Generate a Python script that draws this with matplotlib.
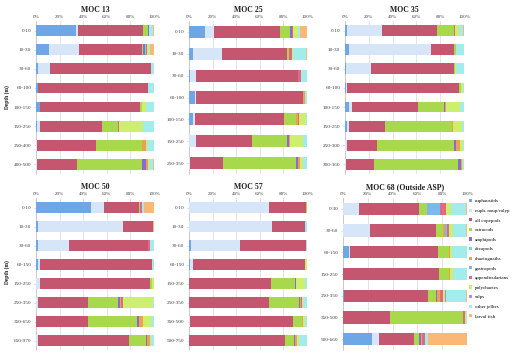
import matplotlib
matplotlib.use("Agg")
import matplotlib.pyplot as plt
from matplotlib.patches import Patch
import numpy as np

plt.rcParams['font.family'] = ['Liberation Serif', 'DejaVu Serif']

categories = ["euphausiids", "euph. naup/calyp", "all copepods", "ostracods", "amphipods",
              "decapods", "chaetognaths", "gastropods", "appendicularians", "polychaetes",
              "salps", "other jellies", "larval fish"]
colors = ["#6EA6E6", "#D6E5F7", "#C4566F", "#A8D84C", "#8A6BD6", "#6ED8D8", "#F0A04C",
          "#7CB8EE", "#E06880", "#CCF06E", "#A993E0", "#A2ECEC", "#FAB877"]

x_ticks = [0, 20, 40, 60, 80, 100]
x_tick_labels = ["0%", "20%", "40%", "60%", "80%", "100%"]

moc13_depths = ["0-10", "10-30", "30-60", "60-100", "100-150", "150-250", "250-400", "400-500"]
moc13_values = [
    [34, 1.5, 55, 4.5, 0.5, 0, 0, 0, 0, 0.5, 0, 3.5, 0.5],
    [11, 26, 53, 1.5, 1.5, 0.5, 0, 0, 1, 1.5, 0.5, 0.5, 3.5],
    [1.5, 10, 86, 0, 0, 0, 0, 0, 0, 0, 0, 2.5, 0],
    [2, 0, 92.5, 0, 0, 0, 0, 0, 0, 0, 0, 5.5, 0],
    [3, 0.5, 84.5, 1.5, 0, 0, 0, 0, 0.5, 3, 0, 7, 0],
    [0.5, 2.5, 52, 13.5, 0, 0, 0.5, 0, 0.5, 20.5, 0, 9, 0],
    [0, 1, 49.5, 38.5, 0, 0, 3.5, 0, 0, 1.5, 0, 5.5, 0],
    [0, 1, 34, 54.5, 4, 0, 1.5, 0, 0, 1, 0, 3.5, 0.5],
]

moc25_depths = ["0-10", "10-30", "30-60", "60-100", "100-150", "150-250", "250-350"]
moc25_values = [
    [13.5, 7.5, 55.5, 9, 1.5, 0, 0, 0, 1, 4, 0, 2, 5.5],
    [3, 25, 55, 1.5, 0, 0, 0, 0, 3, 1, 0, 11, 0.5],
    [1, 5, 86, 0, 0, 0, 0, 0, 2.5, 0.5, 0, 5, 0],
    [5, 1, 90.5, 0, 0, 0, 1.5, 0, 0, 0, 0, 2, 0],
    [3.5, 1.5, 75, 10.5, 0, 0, 1, 0, 1, 6, 0, 1, 0],
    [0, 6, 47.5, 29.5, 1.5, 0, 1, 0, 0, 11, 0, 3.5, 0],
    [0, 1, 28, 61.5, 2, 0, 1.5, 0, 0, 2.5, 0, 3.5, 0],
]

moc35_depths = ["0-10", "10-30", "30-60", "60-100", "100-150", "150-250", "250-300", "300-360"]
moc35_values = [
    [1.5, 29.5, 46.5, 14, 0, 0, 0, 0, 1, 3.5, 0, 3.5, 0.5],
    [3.5, 69, 19, 1.5, 0, 0, 0, 0, 0, 0, 0, 7, 0],
    [1, 21, 69.5, 1, 0, 0, 0, 0, 0, 0.5, 0, 7, 0],
    [1, 1, 93, 2, 0, 0, 0, 0, 0, 2, 0, 0.5, 0],
    [3.5, 2.5, 55, 22, 1, 0, 1, 0, 0, 11.5, 0, 3.5, 0],
    [1.5, 1.5, 30.5, 56, 0, 0, 1, 0, 0, 7.5, 0, 1.5, 0],
    [0, 1.5, 25.5, 64.5, 1.5, 0, 3.5, 0, 0, 2, 0, 1, 0],
    [0, 0.5, 24, 71, 2.5, 0, 1, 0, 0, 1, 0, 0.5, 0],
]

moc50_depths = ["0-10", "10-30", "30-60", "60-150", "150-250", "250-350", "350-650", "650-970"]
moc50_values = [
    [46.5, 10.5, 30, 1, 0, 0, 0, 0, 1, 0, 0, 2, 8.5],
    [2, 72, 25, 0, 0, 0, 0, 0, 0, 0, 0, 0, 1],
    [2, 26, 66.5, 0, 0, 0, 0, 0, 1.5, 0, 0, 3.5, 0],
    [2, 1, 95, 0, 0, 0, 0, 0, 0, 0, 0, 1.5, 0],
    [0, 3, 94, 1.5, 0, 0, 0, 0, 0, 2, 0, 0, 0],
    [0, 2, 42, 25.5, 1.5, 0, 1, 0, 1.5, 25, 0, 1, 0],
    [0, 0, 43.5, 42, 1.5, 0, 3, 0, 0, 7, 0, 2.5, 0],
    [0, 1.5, 77, 14.5, 0.5, 0, 2.5, 0, 0, 1, 0, 2.5, 0],
]

moc57_depths = ["0-10", "10-30", "30-60", "60-150", "150-250", "250-350", "350-500", "500-750"]
moc57_values = [
    [0, 68, 31.5, 0.5, 0, 0, 0, 0, 0, 0, 0, 0, 0],
    [0, 70.5, 28, 0, 0, 0, 0, 0, 0, 0, 0, 1.5, 0],
    [1.5, 41.5, 56.5, 0, 0, 0, 0, 0, 0, 0, 0, 0.5, 0],
    [0.5, 2.5, 95, 0, 0, 0, 0, 0, 0, 2, 0, 0, 0],
    [0, 0, 70, 20, 1.5, 0, 0, 0, 0, 7.5, 0, 1.5, 0],
    [0, 0, 68, 25.5, 1, 0, 1, 0, 1, 0.5, 0, 3.5, 0],
    [0, 1, 87.5, 7.5, 0, 0, 1, 0, 0, 1, 0, 2, 0],
    [0, 0, 81, 8, 1, 0, 1.5, 0, 0, 1.5, 0, 7, 0],
]

moc68_depths = ["0-30", "30-60", "60-150", "150-250", "250-350", "350-500", "500-660"]
moc68_values = [
    [0, 12.5, 49, 6.5, 0, 0, 0, 10.5, 4.5, 4, 0, 12.5, 0.5],
    [0, 22, 53, 5.5, 0, 0, 2, 1, 2, 3.5, 0, 10.5, 0.5],
    [4.5, 1.5, 70.5, 9, 0, 0, 1, 0, 0, 1, 0, 12.5, 0],
    [0, 0, 77.5, 8.5, 0, 0, 1, 0, 0, 2, 0, 11.5, 0],
    [1, 0, 67, 6.5, 1, 0, 2.5, 0, 2, 2, 1, 16, 0.5],
    [0, 0, 37.5, 59.5, 0, 0, 0, 0, 1, 1.5, 0, 0.5, 0],
    [23.5, 5.5, 29, 4, 1.5, 0, 1, 0, 2, 0.5, 0, 2.5, 31.5],
]

panels = [
    ("MOC 13", moc13_depths, moc13_values),
    ("MOC 25", moc25_depths, moc25_values),
    ("MOC 35", moc35_depths, moc35_values),
    ("MOC 50", moc50_depths, moc50_values),
    ("MOC 57", moc57_depths, moc57_values),
    ("MOC 68 (Outside ASP)", moc68_depths, moc68_values),
]

W, H = 520, 356
fig = plt.figure(figsize=(W / 100, H / 100), dpi=100)
fig.patch.set_facecolor("white")

# pixel boxes (x0, x1, ytop, ybot)
boxes = [
    (36, 154, 21, 174), (189, 307, 21, 174), (345, 464, 21, 174),
    (36, 154, 198, 350), (189, 307, 198, 350), (343, 467, 198, 350),
]

axes = []
for (title, depths, values), (x0, x1, yt, yb) in zip(panels, boxes):
    ax = fig.add_axes([x0 / W, 1 - yb / H, (x1 - x0) / W, (yb - yt) / H])
    vals = np.array(values, dtype=float)
    pct = vals / vals.sum(axis=1, keepdims=True) * 100
    y = np.arange(len(depths))
    left = np.zeros(len(depths))
    for j, cat in enumerate(categories):
        ax.barh(y, pct[:, j], left=left, height=0.56, color=colors[j],
                edgecolor="none", zorder=3)
        left += pct[:, j]
    ax.set_xlim(0, 100)
    ax.set_ylim(len(depths) - 0.5, -0.5)
    ax.set_yticks(y)
    ax.set_yticklabels(depths, fontsize=3.8, color="#404040")
    ax.xaxis.tick_top()
    ax.set_xticks(x_ticks)
    ax.set_xticklabels(x_tick_labels, fontsize=3.6, color="#404040")
    ax.tick_params(axis="x", length=0, pad=1.5)
    ax.tick_params(axis="y", length=1.5, width=0.4, color="#BFBFBF", pad=2)
    ax.grid(axis="x", color="#D9D9D9", linewidth=0.5, zorder=0)
    for s in ["top", "right", "bottom"]:
        ax.spines[s].set_visible(False)
    ax.spines["left"].set_color("#BFBFBF")
    ax.spines["left"].set_linewidth(0.5)
    ax.set_title(title, fontsize=5.6, fontweight="bold", pad=6.5, color="#202020")
    axes.append(ax)

for ax, yc in [(axes[0], 97), (axes[3], 272)]:
    fig.text(7 / W, 1 - yc / H, "Depth (m)", rotation=90, fontsize=4.0,
             fontweight="bold", ha="center", va="center", color="#202020")

handles = [Patch(facecolor=c, edgecolor="none") for c in colors]
fig.legend(handles, categories, loc="upper left", bbox_to_anchor=(469 / W, 1 - 199 / H),
           fontsize=3.6, frameon=False, handlelength=0.6, handleheight=0.6,
           labelspacing=1.05, handletextpad=0.6, borderaxespad=0, borderpad=0)

fig.savefig("out.png", dpi=100, facecolor="white")
